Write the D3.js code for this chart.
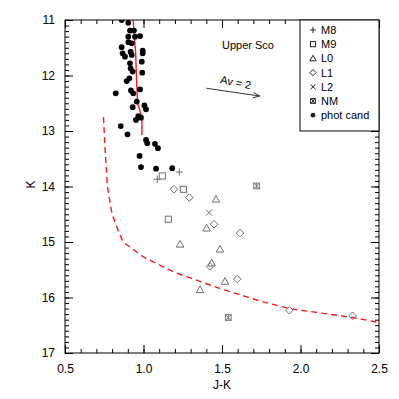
<!DOCTYPE html>
<html>
<head>
<meta charset="utf-8">
<script src="https://cdn.jsdelivr.net/npm/d3@7"></script>
<style>
  body { margin: 0; background: #fff; }
  svg text { font-family: "Liberation Sans", Arial, Helvetica, sans-serif; }
</style>
</head>
<body>
<div id="chart"></div>
<script>
// data: [J-K, K]
var m8 = [[1.228, 13.74], [1.088, 13.87]]
var m9 = [[1.120, 13.81], [1.254, 14.05], [1.158, 14.59]]
var l0 = [[1.462, 14.23], [1.402, 14.75], [1.233, 15.04], [1.487, 15.13], [1.434, 15.38], [1.519, 15.71], [1.360, 15.86]]
var l1 = [[1.194, 14.05], [1.292, 14.20], [1.449, 14.68], [1.615, 14.84], [1.424, 15.44], [1.597, 15.67], [1.929, 16.23], [2.332, 16.33]]
var l2 = [[1.417, 14.47]]
var nm = [[1.721, 13.99], [1.540, 16.36]]
var photCand = [
  [0.861, 11.00], [0.903, 11.05], [0.914, 11.19], [0.939, 11.19], [0.903, 11.30], [0.946, 11.30],
  [0.978, 11.29], [0.925, 11.42], [0.904, 11.40], [0.861, 11.49], [0.918, 11.57], [0.995, 11.55],
  [0.995, 11.60], [0.867, 11.60], [0.882, 11.66], [0.925, 11.63], [0.914, 11.78], [0.989, 11.75],
  [0.918, 11.87], [0.931, 11.93], [0.992, 11.95], [0.910, 12.05], [0.893, 12.10], [0.920, 12.27],
  [0.935, 12.32], [0.978, 12.25], [0.823, 12.32], [0.957, 12.47], [0.931, 12.57], [1.006, 12.54],
  [1.016, 12.61], [0.967, 12.73], [0.984, 12.76], [0.952, 12.80], [0.855, 12.91], [0.898, 13.06],
  [1.016, 13.16], [1.024, 13.22], [1.073, 13.23], [1.092, 13.31], [0.975, 13.45], [0.984, 13.65],
  [1.080, 13.68], [1.183, 13.67]
]
// red solid sequence and red dashed limit
var solidJK = [0.934, 0.950, 0.956, 0.962, 0.990, 0.990]
var solidK = [11.0, 11.6, 12.08, 12.5, 12.75, 13.07]
var dashJK = [0.745, 0.755, 0.77, 0.80, 0.84, 0.87, 1.0, 1.2, 1.5, 1.75, 1.93, 2.33, 2.5]
var dashK = [12.75, 13.3, 14.0, 14.5, 14.8, 15.0, 15.27, 15.55, 15.85, 16.07, 16.2, 16.36, 16.45]
// extinction vector
var avStart = [1.40, 12.23]
var avEnd = [1.74, 12.37]

var xTicks = [0.5, 1.0, 1.5, 2.0, 2.5]
var yTicks = [11, 12, 13, 14, 15, 16, 17]
var legendLabels = ["M8", "M9", "L0", "L1", "L2", "NM", "phot cand"]

var width = 399, height = 399
var pLeft = 65, pRight = 379, pTop = 20, pBottom = 353

var svg = d3.select("#chart").append("svg")
  .attr("width", width)
  .attr("height", height)

var x = d3.scaleLinear().domain([0.5, 2.5]).range([pLeft, pRight])
var y = d3.scaleLinear().domain([11, 17]).range([pTop, pBottom])

svg.append("clipPath").attr("id", "clip")
  .append("rect")
  .attr("x", pLeft).attr("y", pTop)
  .attr("width", pRight - pLeft).attr("height", pBottom - pTop)

var plot = svg.append("g").attr("clip-path", "url(#clip)")

// red lines
var line = d3.line().x(d => x(d[0])).y(d => y(d[1]))
plot.append("path")
  .attr("d", line(solidJK.map((v, i) => [v, solidK[i]])))
  .attr("fill", "none")
  .attr("stroke", "#ff1a1a")
  .attr("stroke-width", 1.4)
plot.append("path")
  .attr("d", line(dashJK.map((v, i) => [v, dashK[i]])))
  .attr("fill", "none")
  .attr("stroke", "#ff1a1a")
  .attr("stroke-width", 1.4)
  .attr("stroke-dasharray", "6,4")

// symbol drawers, s = half size
function drawSym(g, type, cx, cy, col, s) {
  if (type == "plus") {
    g.append("path").attr("d", `M${cx - s},${cy}H${cx + s}M${cx},${cy - s}V${cy + s}`)
      .attr("stroke", col).attr("fill", "none")
  } else if (type == "square") {
    g.append("rect").attr("x", cx - s * 0.85).attr("y", cy - s * 0.85).attr("width", s * 1.7).attr("height", s * 1.7)
      .attr("stroke", col).attr("fill", "none")
  } else if (type == "tri") {
    g.append("path").attr("d", `M${cx},${cy - s * 1.05}L${cx + s * 1.05},${cy + s * 0.8}L${cx - s * 1.05},${cy + s * 0.8}Z`)
      .attr("stroke", col).attr("fill", "none")
  } else if (type == "diamond") {
    g.append("path").attr("d", `M${cx},${cy - s * 1.05}L${cx + s * 1.05},${cy}L${cx},${cy + s * 1.05}L${cx - s * 1.05},${cy}Z`)
      .attr("stroke", col).attr("fill", "none")
  } else if (type == "cross") {
    var c = s * 0.85
    g.append("path").attr("d", `M${cx - c},${cy - c}L${cx + c},${cy + c}M${cx - c},${cy + c}L${cx + c},${cy - c}`)
      .attr("stroke", col).attr("fill", "none")
  } else if (type == "star") {
    var c = s * 0.8
    g.append("rect").attr("x", cx - c).attr("y", cy - c).attr("width", 2 * c).attr("height", 2 * c)
      .attr("stroke", col).attr("fill", "none").attr("stroke-width", 0.9)
    g.append("path").attr("d", `M${cx - c},${cy - c}L${cx + c},${cy + c}M${cx - c},${cy + c}L${cx + c},${cy - c}M${cx},${cy - c}V${cy + c}`)
      .attr("stroke", col).attr("fill", "none").attr("stroke-width", 0.9)
  } else {
    g.append("circle").attr("cx", cx).attr("cy", cy).attr("r", s * 0.8).attr("fill", col)
  }
}

var sets = [
  [m8, "plus"], [m9, "square"], [l0, "tri"], [l1, "diamond"], [l2, "cross"], [nm, "star"]
]
var symG = plot.append("g")
sets.forEach(s => {
  s[0].forEach(d => drawSym(symG, s[1], x(d[0]), y(d[1]), "#6e6e6e", 3.6))
})
photCand.forEach(d => drawSym(symG, "dot", x(d[0]), y(d[1]), "#000", 3.6))

// extinction arrow
var a0 = [x(avStart[0]), y(avStart[1])], a1 = [x(avEnd[0]), y(avEnd[1])]
var ang = Math.atan2(a1[1] - a0[1], a1[0] - a0[0])
svg.append("path")
  .attr("d", `M${a0[0]},${a0[1]}L${a1[0]},${a1[1]}` +
    `M${a1[0] - 7 * Math.cos(ang - 0.4)},${a1[1] - 7 * Math.sin(ang - 0.4)}L${a1[0]},${a1[1]}` +
    `L${a1[0] - 7 * Math.cos(ang + 0.4)},${a1[1] - 7 * Math.sin(ang + 0.4)}`)
  .attr("fill", "none").attr("stroke", "#000").attr("stroke-width", 0.8)
svg.append("text")
  .attr("transform", `translate(${(a0[0] + a1[0]) / 2 + 2},${(a0[1] + a1[1]) / 2 - 6}) rotate(${ang * 180 / Math.PI + 3})`)
  .attr("text-anchor", "middle")
  .style("font-size", "11px")
  .text("Av = 2")

svg.append("text")
  .attr("x", 248).attr("y", 49)
  .attr("text-anchor", "middle")
  .style("font-size", "11px")
  .text("Upper Sco")

// axes with inward ticks
var minorX = d3.range(5, 26).map(v => v / 10)
var minorY = d3.range(110, 171).map(v => v / 10)

function addAxis(axis, tr) {
  var g = svg.append("g").attr("transform", tr).call(axis)
  g.select(".domain").remove()
  g.selectAll(".tick line").attr("stroke", "#000")
  g.selectAll(".tick text").style("font-size", "12px").attr("fill", "#000")
  return g
}
addAxis(d3.axisBottom(x).tickValues(xTicks).tickFormat(d3.format(".1f")).tickSizeInner(-8).tickSizeOuter(0).tickPadding(11), `translate(0,${pBottom})`)
addAxis(d3.axisBottom(x).tickValues(minorX).tickFormat("").tickSizeInner(-4).tickSizeOuter(0), `translate(0,${pBottom})`)
addAxis(d3.axisTop(x).tickValues(xTicks).tickFormat("").tickSizeInner(-8).tickSizeOuter(0), `translate(0,${pTop})`)
addAxis(d3.axisTop(x).tickValues(minorX).tickFormat("").tickSizeInner(-4).tickSizeOuter(0), `translate(0,${pTop})`)
addAxis(d3.axisLeft(y).tickValues(yTicks).tickFormat(d3.format("d")).tickSizeInner(-8).tickSizeOuter(0).tickPadding(10), `translate(${pLeft},0)`)
addAxis(d3.axisLeft(y).tickValues(minorY).tickFormat("").tickSizeInner(-4).tickSizeOuter(0), `translate(${pLeft},0)`)
addAxis(d3.axisRight(y).tickValues(yTicks).tickFormat("").tickSizeInner(-8).tickSizeOuter(0), `translate(${pRight},0)`)
addAxis(d3.axisRight(y).tickValues(minorY).tickFormat("").tickSizeInner(-4).tickSizeOuter(0), `translate(${pRight},0)`)

// frame
svg.append("rect")
  .attr("x", pLeft).attr("y", pTop)
  .attr("width", pRight - pLeft).attr("height", pBottom - pTop)
  .attr("fill", "none").attr("stroke", "#000")

// legend
var lg = svg.append("g")
lg.append("rect")
  .attr("x", 300).attr("y", pTop)
  .attr("width", pRight - 300).attr("height", 131 - pTop)
  .attr("fill", "#fff").attr("stroke", "#000")
var legSyms = ["plus", "square", "tri", "diamond", "cross", "star", "dot"]
legendLabels.forEach((t, i) => {
  var ly = 30 + i * 14.2
  drawSym(lg, legSyms[i], 313, ly, "#222", 3)
  lg.append("text").attr("x", 321).attr("y", ly + 4)
    .style("font-size", "11px").text(t)
})

// axis titles
svg.append("text")
  .attr("x", (pLeft + pRight) / 2).attr("y", 389)
  .attr("text-anchor", "middle")
  .style("font-size", "12px")
  .text("J-K")
svg.append("text")
  .attr("transform", `translate(35,${(pTop + pBottom) / 2 - 2}) rotate(-90)`)
  .attr("text-anchor", "middle")
  .style("font-size", "12px")
  .text("K")
</script>
</body>
</html>
